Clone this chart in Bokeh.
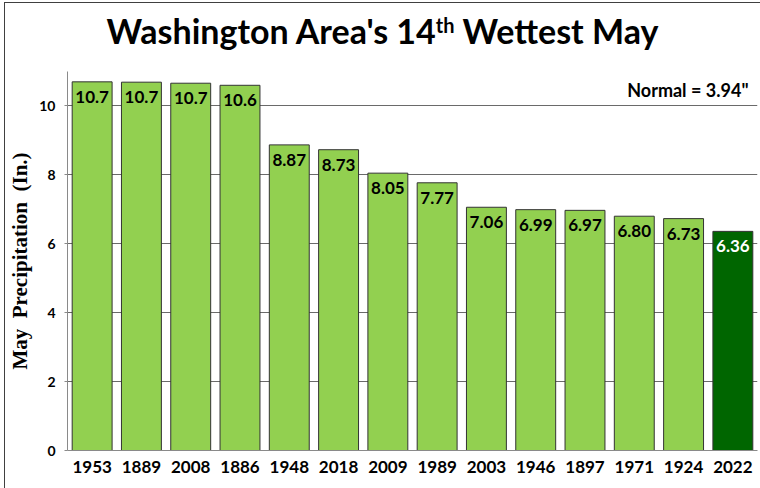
from bokeh.plotting import figure
from bokeh.models import ColumnDataSource, Label, FixedTicker, Range1d, Div
from bokeh.layouts import column
from bokeh.core.properties import value
from bokeh.embed import file_html
from bokeh.resources import INLINE

years = ["1953", "1889", "2008", "1886", "1948", "2018", "2009", "1989",
         "2003", "1946", "1897", "1971", "1924", "2022"]
precip = [10.70, 10.69, 10.66, 10.60, 8.87, 8.73, 8.05, 7.77,
          7.06, 6.99, 6.97, 6.80, 6.73, 6.36]
bar_labels = ["10.7", "10.7", "10.7", "10.6", "8.87", "8.73", "8.05", "7.77",
              "7.06", "6.99", "6.97", "6.80", "6.73", "6.36"]
y_ticks = [0, 2, 4, 6, 8, 10]
normal_text = 'Normal = 3.94"'
title_main = "Washington Area's 14"
title_sup = "th"
title_rest = " Wettest May"

LIGHT = "#92D050"
DARK = "#006600"
colors = [LIGHT] * (len(years) - 1) + [DARK]
text_colors = ["#000000"] * (len(years) - 1) + ["#FFFFFF"]

src = ColumnDataSource(dict(year=years, val=precip, lab=bar_labels,
                            col=colors, tcol=text_colors))

FONT = "Lato"
W = 755

title = Div(
    text=(f"{title_main}<span style='font-size:20px;position:relative;"
          f"top:-11px;'>{title_sup}</span>{title_rest}"),
    width=W, height=53, margin=(0, 0, 0, 0),
    styles={"font-family": "Lato", "font-weight": "bold", "font-size": "34px",
            "line-height": "40px", "text-align": "center", "color": "#000000",
            "padding-top": "8px", "width": f"{W}px", "box-sizing": "border-box",
            "white-space": "nowrap"})

p = figure(x_range=years, width=W, height=432, output_backend="svg",
           toolbar_location=None, min_border_left=62, min_border_right=3,
           min_border_top=15, min_border_bottom=38, margin=(0, 0, 0, 0))
p.y_range = Range1d(0, 11)
p.x_range.range_padding = 0.0

p.vbar(x="year", top="val", width=0.81, source=src, fill_color="col",
       line_color="#333333", line_width=1)
p.text(x="year", y="val", text="lab", source=src, text_color="tcol",
       text_align="center", text_baseline="top", y_offset=9,
       text_font=value(FONT), text_font_style="bold", text_font_size="17px")

p.outline_line_color = None
p.xgrid.grid_line_color = None
p.ygrid.grid_line_color = "#6a6a6a"
p.ygrid.grid_line_width = 1
p.ygrid.ticker = FixedTicker(ticks=y_ticks)
p.yaxis.ticker = FixedTicker(ticks=y_ticks)

p.yaxis.axis_line_color = "#8a8a8a"
p.yaxis.major_tick_line_color = "#8a8a8a"
p.yaxis.major_tick_in = 0
p.yaxis.major_tick_out = 3
p.yaxis.minor_tick_line_color = None
p.yaxis.major_label_standoff = 9
p.yaxis.major_label_text_font = FONT
p.yaxis.major_label_text_font_style = "bold"
p.yaxis.major_label_text_font_size = "14px"
p.yaxis.major_label_text_color = "#000000"
p.yaxis.axis_label = "May\u00a0 Precipitation\u00a0 (In.)"
p.yaxis.axis_label_text_font = "Liberation Serif"
p.yaxis.axis_label_text_font_style = "bold"
p.yaxis.axis_label_text_font_size = "21px"
p.yaxis.axis_label_text_color = "#000000"
p.yaxis.axis_label_standoff = 4

p.xaxis.axis_line_color = "#8a8a8a"
p.xaxis.major_tick_line_color = None
p.xaxis.minor_tick_line_color = None
p.xaxis.major_label_standoff = 4
p.xaxis.major_label_text_font = FONT
p.xaxis.major_label_text_font_style = "bold"
p.xaxis.major_label_text_font_size = "17px"
p.xaxis.major_label_text_color = "#000000"

p.add_layout(Label(x=681, y=361, x_units="screen", y_units="screen",
                   text=normal_text, text_align="right",
                   text_baseline="alphabetic", text_font=FONT,
                   text_font_style="bold", text_font_size="18px",
                   text_color="#000000"))

layout = column(title, p, spacing=0, margin=(2, 0, 0, 4),
                styles={"border-left": "1px solid #404040",
                        "border-top": "1px solid #404040"})
open("out.html", "w").write(file_html(layout, INLINE))
